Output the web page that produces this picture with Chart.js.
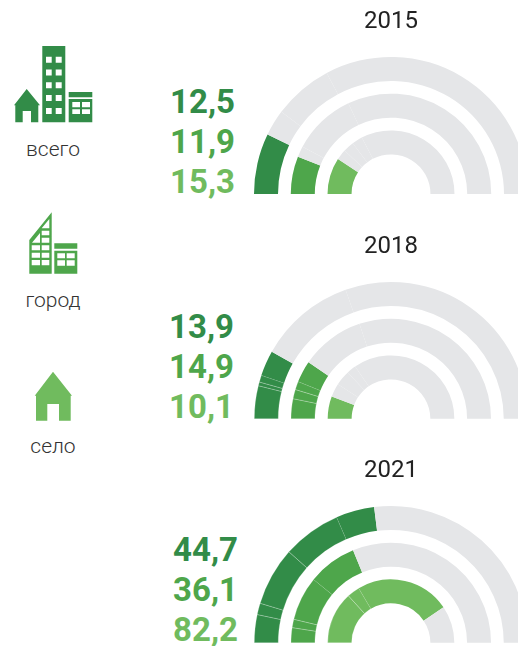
<!DOCTYPE html>
<html lang="ru">
<head>
<meta charset="utf-8">
<title>2015–2021</title>
<script src="https://cdn.jsdelivr.net/npm/chart.js@4"></script>
<style>
html,body{margin:0;padding:0;background:#fff;overflow:hidden;width:518px;height:646px}
#stage{position:relative;width:518px;height:646px;overflow:hidden;font-family:Roboto,sans-serif}
.box{position:absolute;left:254px;width:274px;height:194px}
.val{position:absolute;font-size:33px;line-height:33px;font-weight:700;white-space:nowrap;text-align:right;width:90px}
.lab{position:absolute;left:3px;width:100px;text-align:center;font-size:21px;line-height:20px;font-weight:300;color:#333}
svg{position:absolute;left:0;top:0}
</style>
</head>
<body>
<div id="stage">
<svg width="110" height="470" viewBox="0 0 110 470" fill-rule="evenodd">
  <path fill="#328c48" d="M26.7 89L14 105.3H15.3V122.3H22.7V111H31V122.3H38.3V105.3H40Z"/>
  <path fill="#328c48" d="M42.3 46H65.3V122.3H42.3ZM46 56.7V62.7H51.7V56.7ZM55.7 56.7V62.7H61.7V56.7ZM46 69.5V75.5H51.7V69.5ZM55.7 69.5V75.5H61.7V69.5ZM46 82.3V88.3H51.7V82.3ZM55.7 82.3V88.3H61.7V82.3ZM46 95V101H51.7V95ZM55.7 95V101H61.7V95ZM46 108V114H51.7V108ZM55.7 108V114H61.7V108Z"/>
  <path fill="#328c48" d="M68.7 92H92.3V97.3H68.7ZM68.7 99H92.3V122.3H68.7ZM72.3 102V107.3H80V102ZM82 102V107.3H90V102ZM72.3 109.3V114H80V109.3ZM82 109.3V114H90V109.3Z"/>
  <path fill="#4ea64b" d="M29.3 240L51.7 212.3V273.7H29.3ZM41.7 228.3H49.3V219ZM41.7 230.7V235.3H49.3V230.7ZM41.7 237.7V242.7H49.3V237.7ZM32 242.7H40V233ZM31.7 245.3V250.3H40V245.3ZM41.7 245.3V250.3H49.3V245.3ZM31.7 252.7V257.7H40V252.7ZM41.7 252.7V257.7H49.3V252.7ZM31.7 260V265.3H40V260ZM41.7 260V265.3H49.3V260Z"/>
  <path fill="#4ea64b" d="M54.3 243.3H77.3V248.7H54.3ZM54.3 250.7H77.3V273.7H54.3ZM57.3 253.3V258.3H65V253.3ZM66.7 253.3V258.3H74.7V253.3ZM57.3 260.3V265.7H65V260.3ZM66.7 260.3V265.7H74.7V260.3Z"/>
  <path fill="#70bb5e" d="M53 371.7L34.7 395.7H36V420.7H47.3V404H59V420.7H70.7V395.7H72Z"/>
</svg>
<div class="lab" style="top:139px">всего</div>
<div class="lab" style="top:290px">город</div>
<div class="lab" style="top:436px">село</div>
</div>
<script>
const years = ['2015', '2018', '2021'];
const tops = [0, 225, 449];
const valueLabels = [['12,5', '11,9', '15,3'], ['13,9', '14,9', '10,1'], ['44,7', '36,1', '82,2']];
const labelRight = [235, 234, 238];
const labelBaselines = [[112.5, 152.5, 192.5], [337.5, 377.5, 417.5], [561, 601, 641]];

// Slice sizes, in degrees of the half circle
const outer2015 = [25.7, 11.1, 25.2, 118];
const middle2015 = [21.8, 6.2, 36.8, 115.2];
const inner2015 = [33.3, 9.7, 10, 9.6, 117.4];
const outer2018 = [14, 1.6, 2.9, 10.8, 41.3, 109.4];
const middle2018 = [11.6, 5.4, 4.8, 12.6, 37.2, 108.4];
const inner2018 = [20.6, 12.4, 14, 8.5, 124.5];
const outer2021 = [11.9, 4.9, 24.9, 24.9, 16.3, 97.1];
const middle2021 = [8.7, 4.9, 25.7, 28.4, 112.3];
const inner2021 = [47.8, 11.6, 86.6, 34];
// How many slices of each ring are coloured (the rest are grey)
const filled2015 = [1, 1, 1];
const filled2018 = [4, 4, 1];
const filled2021 = [5, 4, 3];

const ringColors = ['#328c48', '#4ea64b', '#70bb5e'];
const grey = '#e5e6e8';
const seam = 'rgba(255,255,255,0.45)';
const rings = [[outer2015, middle2015, inner2015], [outer2018, middle2018, inner2018], [outer2021, middle2021, inner2021]];
const filled = [filled2015, filled2018, filled2021];

const stage = document.getElementById('stage');
years.forEach((year, y) => {
  const box = document.createElement('div');
  box.className = 'box';
  box.style.top = tops[y] + 'px';
  const cv = document.createElement('canvas');
  box.appendChild(cv);
  stage.appendChild(box);

  const ds = [];
  rings[y].forEach((vals, r) => {
    const n = filled[y][r];
    ds.push({ data: vals, weight: 24,
      borderColor: seam,
      borderWidth: vals.map((_, i) => (i < n - 1 ? 0.5 : 0)),
      backgroundColor: vals.map((_, i) => i < n ? ringColors[r] : grey) });
    if (r < 2) ds.push({ data: [180], weight: 12.75, borderWidth: 0, backgroundColor: 'rgba(0,0,0,0)' });
  });
  new Chart(cv, {
    type: 'doughnut',
    data: { labels: vals0(rings[y]), datasets: ds },
    options: {
      responsive: true, maintainAspectRatio: false, animation: false,
      rotation: -90, circumference: 180, cutout: '28.8%',
      layout: { padding: 0 },
      plugins: {
        legend: { display: false }, tooltip: { enabled: false },
        title: { display: true, text: year, color: '#222', font: { family: 'Roboto', size: 24, weight: 'normal' },
          padding: { top: 8, bottom: 20 } }
      }
    }
  });

  valueLabels[y].forEach((t, i) => {
    const s = document.createElement('div');
    s.className = 'val';
    s.textContent = t;
    s.style.color = ringColors[i];
    s.style.left = (labelRight[y] - 90) + 'px';
    s.style.top = (labelBaselines[y][i] - 28) + 'px';
    stage.appendChild(s);
  });
});
function vals0(r) { return r[0].map((_, i) => String(i + 1)); }
</script>
</body>
</html>
